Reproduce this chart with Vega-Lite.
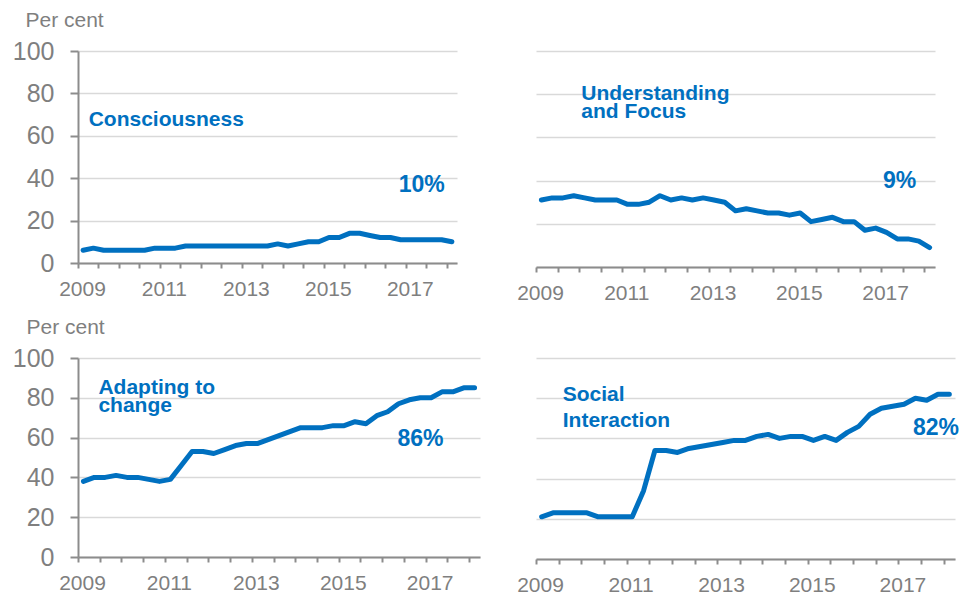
{
  "$schema": "https://vega.github.io/schema/vega-lite/v6.json",
  "padding": {"left": 12, "top": 9, "right": 0, "bottom": 0},
  "bounds": "flush",
  "columns": 2,
  "spacing": {"row": 91, "column": 56},
  "config": {
    "font": "Liberation Sans",
    "view": {"stroke": null},
    "axis": {
      "labelColor": "#7f7f7f",
      "titleColor": "#7f7f7f",
      "domainColor": "#8c8c8c",
      "tickColor": "#8c8c8c",
      "gridColor": "#d9d9d9",
      "gridWidth": 1.5,
      "domainWidth": 2,
      "tickWidth": 2,
      "labelFont": "Liberation Sans",
      "titleFont": "Liberation Sans"
    },
    "axisX": {"grid": false, "tickSize": 5, "labelFontSize": 21, "labelPadding": 10, "labelOffset": 4, "labelOverlap": false, "labelFlush": false, "title": null, "tickCount": 40},
    "axisY": {"grid": true, "tickSize": 8, "labelPadding": 16, "labelFontSize": 25, "labelOverlap": false, "tickCount": 12},
    "line": {"color": "#0070c0", "strokeWidth": 5, "strokeCap": "round", "strokeJoin": "round"},
    "text": {"color": "#0070c0", "font": "Liberation Sans", "fontWeight": "bold", "baseline": "alphabetic"}
  },
  "datasets": {
    "consciousness": [
      {"t": 2009.125, "v": 6}, {"t": 2009.375, "v": 7}, {"t": 2009.625, "v": 6}, {"t": 2009.875, "v": 6},
      {"t": 2010.125, "v": 6}, {"t": 2010.375, "v": 6}, {"t": 2010.625, "v": 6}, {"t": 2010.875, "v": 7},
      {"t": 2011.125, "v": 7}, {"t": 2011.375, "v": 7}, {"t": 2011.625, "v": 8}, {"t": 2011.875, "v": 8},
      {"t": 2012.125, "v": 8}, {"t": 2012.375, "v": 8}, {"t": 2012.625, "v": 8}, {"t": 2012.875, "v": 8},
      {"t": 2013.125, "v": 8}, {"t": 2013.375, "v": 8}, {"t": 2013.625, "v": 8}, {"t": 2013.875, "v": 9},
      {"t": 2014.125, "v": 8}, {"t": 2014.375, "v": 9}, {"t": 2014.625, "v": 10}, {"t": 2014.875, "v": 10},
      {"t": 2015.125, "v": 12}, {"t": 2015.375, "v": 12}, {"t": 2015.625, "v": 14}, {"t": 2015.875, "v": 14},
      {"t": 2016.125, "v": 13}, {"t": 2016.375, "v": 12}, {"t": 2016.625, "v": 12}, {"t": 2016.875, "v": 11},
      {"t": 2017.125, "v": 11}, {"t": 2017.375, "v": 11}, {"t": 2017.625, "v": 11}, {"t": 2017.875, "v": 11},
      {"t": 2018.125, "v": 10}
    ],
    "understanding": [
      {"t": 2009.125, "v": 31}, {"t": 2009.375, "v": 32}, {"t": 2009.625, "v": 32}, {"t": 2009.875, "v": 33},
      {"t": 2010.125, "v": 32}, {"t": 2010.375, "v": 31}, {"t": 2010.625, "v": 31}, {"t": 2010.875, "v": 31},
      {"t": 2011.125, "v": 29}, {"t": 2011.375, "v": 29}, {"t": 2011.625, "v": 30}, {"t": 2011.875, "v": 33},
      {"t": 2012.125, "v": 31}, {"t": 2012.375, "v": 32}, {"t": 2012.625, "v": 31}, {"t": 2012.875, "v": 32},
      {"t": 2013.125, "v": 31}, {"t": 2013.375, "v": 30}, {"t": 2013.625, "v": 26}, {"t": 2013.875, "v": 27},
      {"t": 2014.125, "v": 26}, {"t": 2014.375, "v": 25}, {"t": 2014.625, "v": 25}, {"t": 2014.875, "v": 24},
      {"t": 2015.125, "v": 25}, {"t": 2015.375, "v": 21}, {"t": 2015.625, "v": 22}, {"t": 2015.875, "v": 23},
      {"t": 2016.125, "v": 21}, {"t": 2016.375, "v": 21}, {"t": 2016.625, "v": 17}, {"t": 2016.875, "v": 18},
      {"t": 2017.125, "v": 16}, {"t": 2017.375, "v": 13}, {"t": 2017.625, "v": 13}, {"t": 2017.875, "v": 12},
      {"t": 2018.125, "v": 9}
    ],
    "adapting": [
      {"t": 2009.125, "v": 38}, {"t": 2009.375, "v": 40}, {"t": 2009.625, "v": 40}, {"t": 2009.875, "v": 41},
      {"t": 2010.125, "v": 40}, {"t": 2010.375, "v": 40}, {"t": 2010.625, "v": 39}, {"t": 2010.875, "v": 38},
      {"t": 2011.125, "v": 39}, {"t": 2011.375, "v": 46}, {"t": 2011.625, "v": 53}, {"t": 2011.875, "v": 53},
      {"t": 2012.125, "v": 52}, {"t": 2012.375, "v": 54}, {"t": 2012.625, "v": 56}, {"t": 2012.875, "v": 57},
      {"t": 2013.125, "v": 57}, {"t": 2013.375, "v": 59}, {"t": 2013.625, "v": 61}, {"t": 2013.875, "v": 63},
      {"t": 2014.125, "v": 65}, {"t": 2014.375, "v": 65}, {"t": 2014.625, "v": 65}, {"t": 2014.875, "v": 66},
      {"t": 2015.125, "v": 66}, {"t": 2015.375, "v": 68}, {"t": 2015.625, "v": 67}, {"t": 2015.875, "v": 71},
      {"t": 2016.125, "v": 73}, {"t": 2016.375, "v": 77}, {"t": 2016.625, "v": 79}, {"t": 2016.875, "v": 80},
      {"t": 2017.125, "v": 80}, {"t": 2017.375, "v": 83}, {"t": 2017.625, "v": 83}, {"t": 2017.875, "v": 85},
      {"t": 2018.125, "v": 85}
    ],
    "social": [
      {"t": 2009.125, "v": 21}, {"t": 2009.375, "v": 23}, {"t": 2009.625, "v": 23}, {"t": 2009.875, "v": 23},
      {"t": 2010.125, "v": 23}, {"t": 2010.375, "v": 21}, {"t": 2010.625, "v": 21}, {"t": 2010.875, "v": 21},
      {"t": 2011.125, "v": 21}, {"t": 2011.375, "v": 34}, {"t": 2011.625, "v": 54}, {"t": 2011.875, "v": 54},
      {"t": 2012.125, "v": 53}, {"t": 2012.375, "v": 55}, {"t": 2012.625, "v": 56}, {"t": 2012.875, "v": 57},
      {"t": 2013.125, "v": 58}, {"t": 2013.375, "v": 59}, {"t": 2013.625, "v": 59}, {"t": 2013.875, "v": 61},
      {"t": 2014.125, "v": 62}, {"t": 2014.375, "v": 60}, {"t": 2014.625, "v": 61}, {"t": 2014.875, "v": 61},
      {"t": 2015.125, "v": 59}, {"t": 2015.375, "v": 61}, {"t": 2015.625, "v": 59}, {"t": 2015.875, "v": 63},
      {"t": 2016.125, "v": 66}, {"t": 2016.375, "v": 72}, {"t": 2016.625, "v": 75}, {"t": 2016.875, "v": 76},
      {"t": 2017.125, "v": 77}, {"t": 2017.375, "v": 80}, {"t": 2017.625, "v": 79}, {"t": 2017.875, "v": 82},
      {"t": 2018.125, "v": 82}
    ]
  },
  "concat": [
    {
      "width": 379, "height": 212,
      "layer": [
        {
          "data": {"name": "consciousness"},
          "mark": {"type": "line"},
          "encoding": {
            "x": {"field": "t", "type": "quantitative", "scale": {"domain": [2009, 2018.25], "nice": false, "zero": false},
                  "axis": {"values": [2009, 2009.5, 2010, 2010.5, 2011, 2011.5, 2012, 2012.5, 2013, 2013.5, 2014, 2014.5, 2015, 2015.5, 2016, 2016.5, 2017, 2017.5, 2018], "tickCount": 40, "labelExpr": "datum.value % 2 == 1 ? '' + datum.value : ''", "labelOverlap": false}},
            "y": {"field": "v", "type": "quantitative", "scale": {"domain": [0, 100], "nice": false},
                  "axis": {"values": [0, 20, 40, 60, 80, 100], "tickCount": 12, "labelOverlap": false, "title": "Per cent", "titleAngle": 0, "titleAlign": "left", "titleBaseline": "alphabetic", "titleX": -53, "titleY": -25, "titleFontSize": 21, "titleFontWeight": "normal"}}
          }
        },
        {
          "data": {"values": [{}]},
          "mark": {"type": "text", "fontSize": 21, "align": "left"},
          "encoding": {"x": {"datum": 2009.26, "type": "quantitative"}, "y": {"datum": 64.6, "type": "quantitative"}, "text": {"value": "Consciousness"}}
        },
        {
          "data": {"values": [{}]},
          "mark": {"type": "text", "fontSize": 23, "align": "center"},
          "encoding": {"x": {"datum": 2017.39, "type": "quantitative"}, "y": {"datum": 33.5, "type": "quantitative"}, "text": {"value": "10%"}}
        }
      ]
    },
    {
      "width": 399, "height": 216,
      "layer": [
        {
          "data": {"name": "understanding"},
          "mark": {"type": "line"},
          "encoding": {
            "x": {"field": "t", "type": "quantitative", "scale": {"domain": [2009, 2018.25], "nice": false, "zero": false},
                  "axis": {"values": [2009, 2009.5, 2010, 2010.5, 2011, 2011.5, 2012, 2012.5, 2013, 2013.5, 2014, 2014.5, 2015, 2015.5, 2016, 2016.5, 2017, 2017.5, 2018], "tickCount": 40, "labelExpr": "datum.value % 2 == 1 ? '' + datum.value : ''", "labelOverlap": false}},
            "y": {"field": "v", "type": "quantitative", "scale": {"domain": [0, 100], "nice": false},
                  "axis": {"values": [0, 20, 40, 60, 80, 100], "tickCount": 12, "title": null, "labels": false, "ticks": false, "domain": false}}
          }
        },
        {
          "data": {"values": [{}]},
          "mark": {"type": "text", "fontSize": 21, "align": "left", "lineHeight": 18},
          "encoding": {"x": {"datum": 2010.05, "type": "quantitative"}, "y": {"datum": 77.3, "type": "quantitative"}, "text": {"value": ["Understanding", "and Focus"]}}
        },
        {
          "data": {"values": [{}]},
          "mark": {"type": "text", "fontSize": 23, "align": "center"},
          "encoding": {"x": {"datum": 2017.43, "type": "quantitative"}, "y": {"datum": 36.6, "type": "quantitative"}, "text": {"value": "9%"}}
        }
      ]
    },
    {
      "width": 402, "height": 199,
      "layer": [
        {
          "data": {"name": "adapting"},
          "mark": {"type": "line"},
          "encoding": {
            "x": {"field": "t", "type": "quantitative", "scale": {"domain": [2009, 2018.25], "nice": false, "zero": false},
                  "axis": {"values": [2009, 2009.5, 2010, 2010.5, 2011, 2011.5, 2012, 2012.5, 2013, 2013.5, 2014, 2014.5, 2015, 2015.5, 2016, 2016.5, 2017, 2017.5, 2018], "tickCount": 40, "labelExpr": "datum.value % 2 == 1 ? '' + datum.value : ''", "labelOverlap": false}},
            "y": {"field": "v", "type": "quantitative", "scale": {"domain": [0, 100], "nice": false},
                  "axis": {"values": [0, 20, 40, 60, 80, 100], "tickCount": 12, "labelOverlap": false, "title": "Per cent", "titleAngle": 0, "titleAlign": "left", "titleBaseline": "alphabetic", "titleX": -52, "titleY": -25, "titleFontSize": 21, "titleFontWeight": "normal"}}
          }
        },
        {
          "data": {"values": [{}]},
          "mark": {"type": "text", "fontSize": 21, "align": "left", "lineHeight": 18},
          "encoding": {"x": {"datum": 2009.47, "type": "quantitative"}, "y": {"datum": 82, "type": "quantitative"}, "text": {"value": ["Adapting to", "change"]}}
        },
        {
          "data": {"values": [{}]},
          "mark": {"type": "text", "fontSize": 23, "align": "center"},
          "encoding": {"x": {"datum": 2016.88, "type": "quantitative"}, "y": {"datum": 55.6, "type": "quantitative"}, "text": {"value": "86%"}}
        }
      ]
    },
    {
      "width": 419, "height": 201,
      "layer": [
        {
          "data": {"name": "social"},
          "mark": {"type": "line"},
          "encoding": {
            "x": {"field": "t", "type": "quantitative", "scale": {"domain": [2009, 2018.25], "nice": false, "zero": false},
                  "axis": {"values": [2009, 2009.5, 2010, 2010.5, 2011, 2011.5, 2012, 2012.5, 2013, 2013.5, 2014, 2014.5, 2015, 2015.5, 2016, 2016.5, 2017, 2017.5, 2018], "tickCount": 40, "labelExpr": "datum.value % 2 == 1 ? '' + datum.value : ''", "labelOverlap": false}},
            "y": {"field": "v", "type": "quantitative", "scale": {"domain": [0, 100], "nice": false},
                  "axis": {"values": [0, 20, 40, 60, 80, 100], "tickCount": 12, "title": null, "labels": false, "ticks": false, "domain": false}}
          }
        },
        {
          "data": {"values": [{}]},
          "mark": {"type": "text", "fontSize": 21, "align": "left", "lineHeight": 26},
          "encoding": {"x": {"datum": 2009.59, "type": "quantitative"}, "y": {"datum": 78.4, "type": "quantitative"}, "text": {"value": ["Social", "Interaction"]}}
        },
        {
          "data": {"values": [{}]},
          "mark": {"type": "text", "fontSize": 23, "align": "center"},
          "encoding": {"x": {"datum": 2017.83, "type": "quantitative"}, "y": {"datum": 61.6, "type": "quantitative"}, "text": {"value": "82%"}}
        }
      ]
    }
  ]
}
